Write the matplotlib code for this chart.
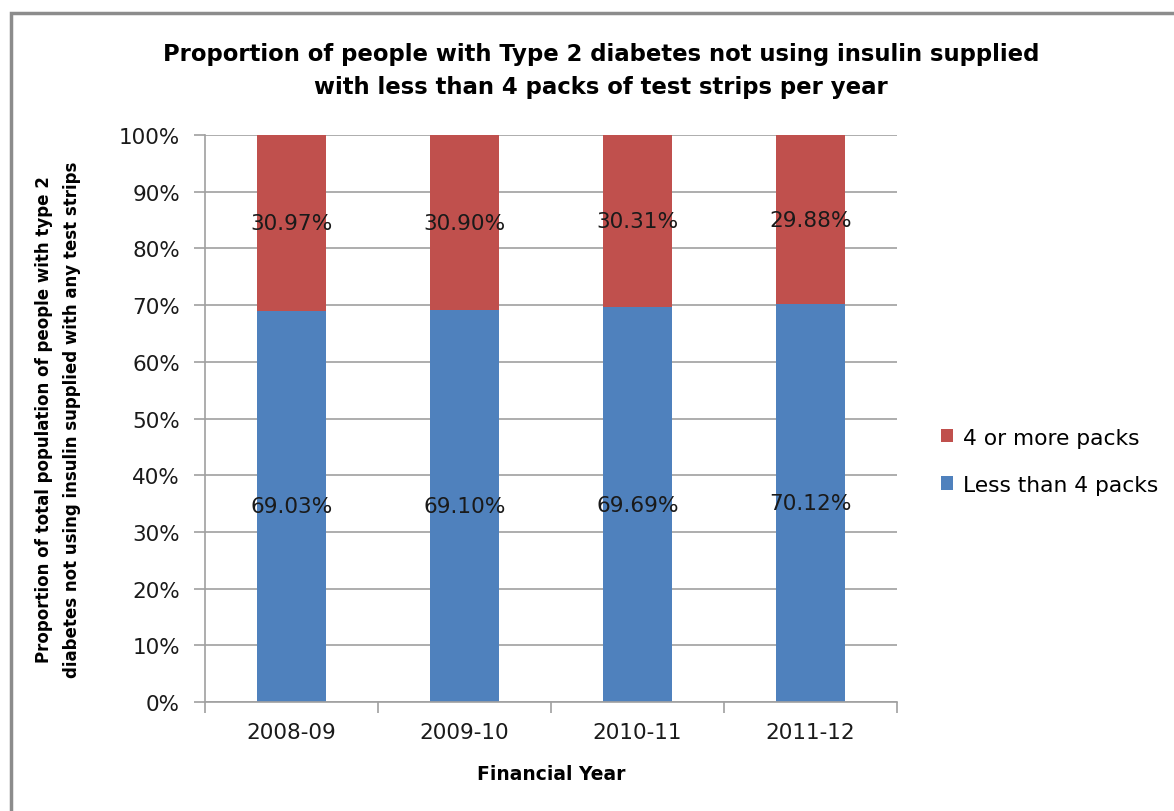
import matplotlib.pyplot as plt
import matplotlib.patches as mpatches
import numpy as np

# Datos
anios = ['2008-09', '2009-10', '2010-11', '2011-12']
menos_4 = [69.03, 69.10, 69.69, 70.12]
cuatro_o_mas = [30.97, 30.90, 30.31, 29.88]

AZUL = '#4f81bd'
ROJO = '#c0504d'
GRIS = '#a0a0a0'

plt.rcParams['font.family'] = ['DejaVu Sans']

fig = plt.figure(figsize=(11.74, 8.12), dpi=100)
ax = fig.add_axes([0.1746, 0.134, 0.5894, 0.6985])

x = np.arange(len(anios))
ancho = 0.40
b1 = ax.bar(x, menos_4, ancho, color=AZUL, label='Less than 4 packs', zorder=2)
b2 = ax.bar(x, cuatro_o_mas, ancho, bottom=menos_4, color=ROJO,
            label='4 or more packs', zorder=2)

# Etiquetas de valor centradas en cada segmento
for i in range(len(anios)):
    ax.text(x[i], menos_4[i] / 2, f'{menos_4[i]:.2f}%', ha='center', va='center',
            fontsize=15.6, color='#1a1a1a', zorder=3)
    ax.text(x[i], menos_4[i] + cuatro_o_mas[i] / 2, f'{cuatro_o_mas[i]:.2f}%',
            ha='center', va='center', fontsize=15.6, color='#1a1a1a', zorder=3)

ax.set_xlim(-0.5, len(anios) - 0.5)
ax.set_ylim(0, 100)
ax.set_yticks(np.arange(0, 101, 10))
ax.set_yticklabels([f'{v}%' for v in range(0, 101, 10)])
ax.set_xticks(x)
ax.set_xticklabels(anios)
ax.set_xticks(np.arange(-0.5, len(anios), 1), minor=True)
ax.tick_params(axis='x', which='major', length=0, pad=14, labelsize=15.5, labelcolor='#1a1a1a')
ax.tick_params(axis='x', which='minor', length=8, color=GRIS, width=1.2)
ax.tick_params(axis='y', length=8, color=GRIS, width=1.2, labelsize=15.5,
               labelcolor='#1a1a1a', pad=10)

ax.grid(axis='y', color=GRIS, linewidth=1.2, zorder=0)
ax.set_axisbelow(True)
for lado in ['top', 'right']:
    ax.spines[lado].set_visible(False)
for lado in ['left', 'bottom']:
    ax.spines[lado].set_color(GRIS)
    ax.spines[lado].set_linewidth(1.2)

ax.set_xlabel('Financial Year', fontsize=13.5, fontweight='bold', labelpad=16)
ax.set_ylabel('Proportion of total population of people with type 2\n'
              'diabetes not using insulin supplied with any test strips',
              fontsize=12, fontweight='bold', labelpad=27, linespacing=1.75)

fig.text(0.512, 0.913, 'Proportion of people with Type 2 diabetes not using insulin supplied\n'
         'with less than 4 packs of test strips per year',
         ha='center', va='center', fontsize=16.4, fontweight='bold',
         linespacing=1.55)

# Leyenda con el orden de las series apiladas
ax.legend([b2, b1], ['4 or more packs', 'Less than 4 packs'],
          loc='center left', bbox_to_anchor=(1.035, 0.425), frameon=False,
          fontsize=15.7, handlelength=0.55, handleheight=0.55, labelspacing=1.25,
          handletextpad=0.45)

# Marco exterior del gráfico
marco = mpatches.Rectangle((11 / 1174, -0.1), 1.2, 1 - 14 / 812 + 0.1,
                           transform=fig.transFigure, fill=False,
                           edgecolor='#8c8c8c', linewidth=2.5)
fig.patches.append(marco)

fig.savefig('out.png', dpi=100)
